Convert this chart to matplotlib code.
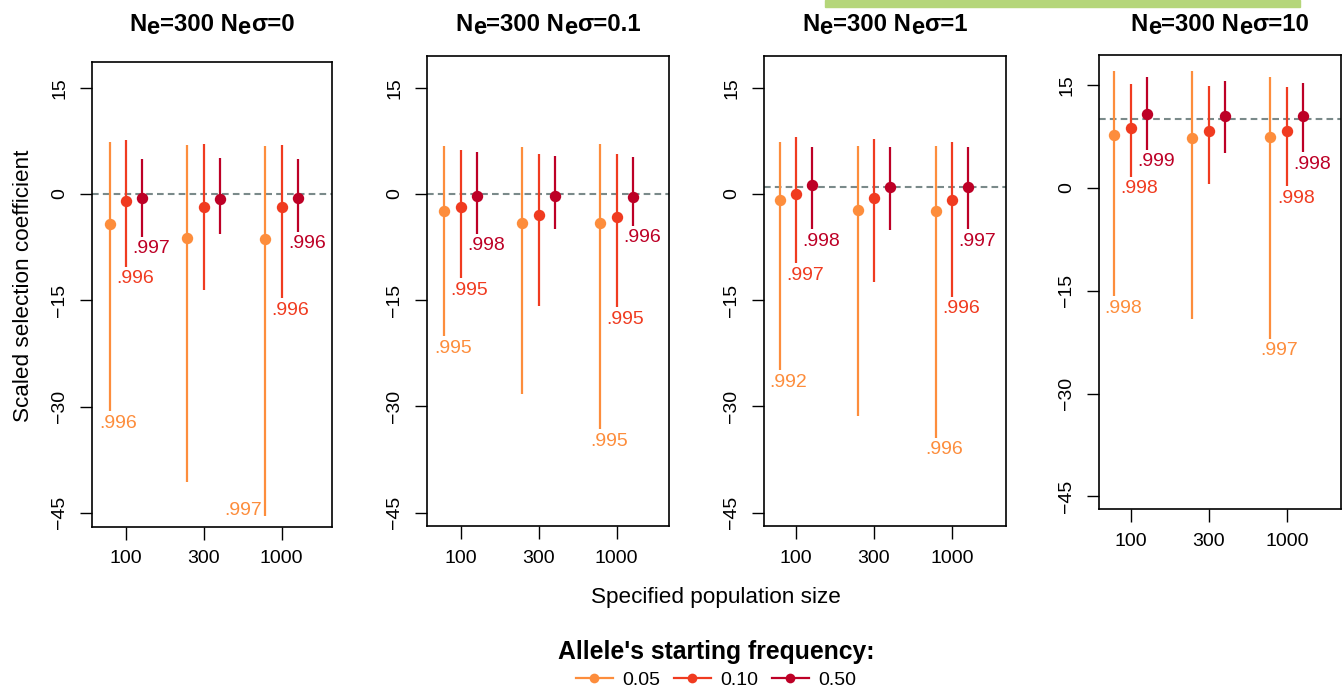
import matplotlib
matplotlib.use("Agg")
import matplotlib.pyplot as plt
from matplotlib.lines import Line2D
from matplotlib.patches import Rectangle

plt.rcParams['font.family'] = ['Liberation Sans', 'DejaVu Sans']

# ---------------- data ----------------
pop_sizes = ['100', '300', '1000']
freq_labels = ['0.05', '0.10', '0.50']
sigma_values = ['0', '0.1', '1', '10']
true_values = [0, 0, 1, 10]

# panel 1 : Ne*sigma = 0
p1_est = [[-4.24, -6.26, -6.35], [-1.0, -1.9, -1.9], [-0.56, -0.7, -0.5]]
p1_lo = [[-30.7, -40.7, -45.5], [-10.3, -13.5, -14.7], [-6.0, -5.65, -5.3]]
p1_hi = [[7.39, 6.9, 6.8], [7.6, 7.06, 6.9], [4.9, 5.1, 4.9]]
p1_lab = [['.996', '', '.997'], ['.996', '', '.996'], ['.997', '', '.996']]

# panel 2 : Ne*sigma = 0.1
p2_est = [[-2.4, -4.14, -4.1], [-1.79, -3.0, -3.2], [-0.28, -0.24, -0.38]]
p2_lo = [[-20.1, -28.3, -33.2], [-11.9, -15.8, -16.0], [-5.6, -4.9, -4.5]]
p2_hi = [[6.78, 6.6, 7.1], [6.2, 5.6, 5.7], [5.9, 5.4, 5.2]]
p2_lab = [['.995', '', '.995'], ['.995', '', '.995'], ['.998', '', '.996']]

# panel 3 : Ne*sigma = 1
p3_est = [[-0.9, -2.26, -2.4], [0.0, -0.6, -0.8], [1.3, 1.0, 1.0]]
p3_lo = [[-24.9, -31.4, -34.4], [-9.8, -12.4, -14.5], [-5.0, -5.1, -5.0]]
p3_hi = [[7.3, 6.8, 6.8], [8.0, 7.7, 7.4], [6.7, 6.6, 6.7]]
p3_lab = [['.992', '', '.996'], ['.997', '', '.996'], ['.998', '', '.997']]

# panel 4 : Ne*sigma = 10
p4_est = [[7.7, 7.3, 7.4], [8.77, 8.33, 8.28], [10.76, 10.5, 10.47]]
p4_lo = [[-15.8, -19.1, -22.0], [1.6, 0.58, 0.24], [5.5, 5.1, 5.2]]
p4_hi = [[16.95, 16.95, 16.2], [15.15, 14.86, 14.7], [16.07, 15.6, 15.3]]
p4_lab = [['.998', '', '.997'], ['.998', '', '.998'], ['.999', '', '.998']]

yticks = [-45, -30, -15, 0, 15]

# ---------------- style / layout ----------------
colors = ['#FD8D3C', '#F03B20', '#BD0026']
W, H = 1344, 692
# (left, right, top, bottom) in pixels
boxes = [(92, 331.5, 62, 526.7), (427, 669, 56, 526),
         (764, 1005.7, 56, 526), (1099, 1340.7, 55, 509)]
xlims = [(0.565, 3.64), (0.568, 3.67), (0.59, 3.69), (0.594, 3.69)]
ylims = [(-46.97, 18.64), (-46.87, 19.48), (-46.87, 19.48), (-46.83, 19.34)]
offsets = [-0.21, 0.0, 0.21]

panels = [(p1_est, p1_lo, p1_hi, p1_lab), (p2_est, p2_lo, p2_hi, p2_lab),
          (p3_est, p3_lo, p3_hi, p3_lab), (p4_est, p4_lo, p4_hi, p4_lab)]

fig = plt.figure(figsize=(W / 100, H / 100), dpi=100)

def fx(px):
    return px / W

def fy(py):
    return 1 - py / H

PT = 72 / 100  # points per pixel

for k, (est, lo, hi, lab) in enumerate(panels):
    l, r, t, b = boxes[k]
    ax = fig.add_axes([fx(l), fy(b), fx(r) - fx(l), (b - t) / H])
    ax.set_xlim(*xlims[k])
    ax.set_ylim(*ylims[k])
    ax.axhline(true_values[k], color='#7A8A8A', lw=1.5, ls=(0, (3.2, 2.0)), zorder=1)
    xs = list(range(1, len(pop_sizes) + 1))
    for s in range(len(freq_labels)):
        xpos = [x + offsets[s] for x in xs]
        ax.vlines(xpos, lo[s], hi[s], color=colors[s], lw=1.6, zorder=2)
        ax.plot(xpos, est[s], 'o', color=colors[s], ms=8.2, mew=0, zorder=3)
        for g, txt in enumerate(lab[s]):
            if not txt:
                continue
            # would the label fall below the plot region?
            disp_lo = ax.transData.transform((xpos[g], lo[s][g]))[1]
            disp_bot = ax.transData.transform((xpos[g], ylims[k][0]))[1]
            if disp_lo - 20 < disp_bot:
                ax.annotate(txt, (xpos[g], lo[s][g]), xytext=(-3 * PT, 6 * PT),
                            textcoords='offset points', ha='right', va='center',
                            color=colors[s], fontsize=14, annotation_clip=False)
            else:
                ax.annotate(txt, (xpos[g], lo[s][g]), xytext=(-10 * PT, -12 * PT),
                            textcoords='offset points', ha='left', va='center',
                            color=colors[s], fontsize=14, annotation_clip=False)
    ax.set_xticks(xs)
    ax.set_xticklabels(pop_sizes)
    ax.set_yticks(yticks)
    ax.set_yticklabels([str(v).replace('-', '\u2212') for v in yticks])
    ax.tick_params(direction='out', length=9, width=1.0, labelsize=14, pad=8, color='black')
    for lbl in ax.get_yticklabels():
        lbl.set_rotation(90)
        lbl.set_va('center')
    for sp in ax.spines.values():
        sp.set_linewidth(1.2)

# titles with lowered "e"
renderer = fig.canvas.get_renderer()
def seg_title(xc, base, parts, size):
    objs = []
    total = 0
    for s, dy in parts:
        tt = fig.text(0, 0, s, fontsize=size, fontweight='bold', va='baseline', ha='left')
        w = tt.get_window_extent(renderer).width
        objs.append((tt, dy, w))
        total += w
    x0 = xc - total / 2
    for tt, dy, w in objs:
        tt.set_position((fx(x0), fy(base + dy)))
        x0 += w

for k in range(4):
    l, r, t, b = boxes[k]
    parts = [('N', 0), ('e', 3.3), ('=300 N', 0), ('e', 3.3), ('\u03c3=' + sigma_values[k], 0)]
    seg_title((l + r) / 2, 30.7, parts, 17.2)

fig.text(fx(24), fy(286), 'Scaled selection coefficient', rotation=90,
         ha='center', va='center', fontsize=16.2)
fig.text(fx(716), fy(603), 'Specified population size', ha='center', va='baseline', fontsize=16.2)
fig.text(fx(716), fy(658.5), "Allele's starting frequency:", ha='center', va='baseline',
         fontsize=17.8, fontweight='bold')

handles = [Line2D([], [], color=c, lw=1.6, marker='o', ms=7, mew=0) for c in colors]
fig.legend(handles, freq_labels, loc='center', bbox_to_anchor=(fx(716), fy(680)),
           ncol=3, frameon=False, fontsize=14, handlelength=1.9, handletextpad=0.48,
           columnspacing=0.7, borderpad=0, borderaxespad=0)

fig.patches.append(Rectangle((fx(825), fy(6.7)), fx(1300) - fx(825), 6.7 / H,
                             transform=fig.transFigure, color='#B5D67A', zorder=0))

fig.savefig('out.png', dpi=100)
